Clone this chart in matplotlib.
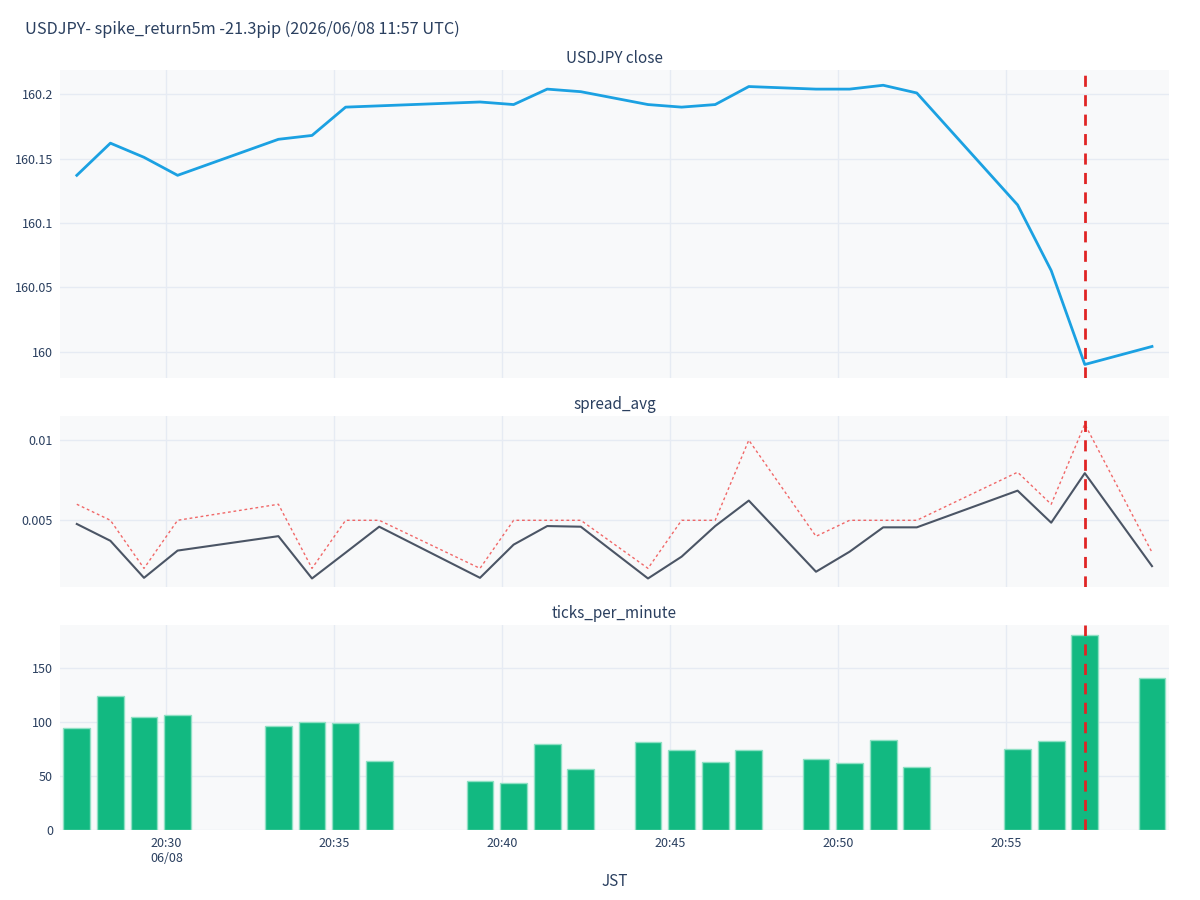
import numpy as np
import pandas as pd
import matplotlib
matplotlib.use('Agg')
import matplotlib.pyplot as plt
import matplotlib.dates as mdates
from matplotlib.ticker import FuncFormatter

plt.rcParams['font.family'] = ['Noto Sans CJK JP', 'DejaVu Sans']

# data (JST, 2026/06/08)
minutes = [27, 28, 29, 30, 33, 34, 35, 36, 39, 40, 41, 42, 44, 45, 46, 47, 49, 50, 51, 52, 55, 56, 57, 59]
close = [160.137, 160.162, 160.151, 160.137, 160.165, 160.168, 160.190, 160.191, 160.194, 160.192,
         160.204, 160.202, 160.192, 160.190, 160.192, 160.206, 160.204, 160.204, 160.207, 160.201,
         160.114, 160.063, 159.990, 160.004]
spread_avg = [0.00477, 0.00372, 0.00141, 0.00311, 0.00401, 0.00137, 0.00298, 0.00460, 0.00141, 0.00348,
              0.00464, 0.00460, 0.00137, 0.00273, 0.00464, 0.00623, 0.00179, 0.00304, 0.00456, 0.00456,
              0.00685, 0.00485, 0.00794, 0.00214]
spread_max = [0.006, 0.005, 0.002, 0.005, 0.006, 0.002, 0.005, 0.005, 0.002, 0.005,
              0.005, 0.005, 0.002, 0.005, 0.005, 0.010, 0.004, 0.005, 0.005, 0.005,
              0.008, 0.006, 0.011, 0.003]
ticks_per_minute = [94, 124, 104, 106, 96, 100, 99, 64, 45, 43, 79, 56, 81, 74, 63, 74, 66, 62, 83, 58,
                    75, 82, 180, 141]
event_time = pd.Timestamp('2026-06-08 20:57:20')
title = 'USDJPY- spike_return5m -21.3pip (2026/06/08 11:57 UTC)'

times = [pd.Timestamp('2026-06-08 20:%02d:20' % m) for m in minutes]

text_color = '#2a3f5f'
grid_color = '#e6ebf3'
bg_color = '#f8f9fa'

fig = plt.figure(figsize=(12, 9), dpi=100)
ax1 = fig.add_axes([0.05, 0.58, 0.924, 0.342])
ax2 = fig.add_axes([0.05, 0.348, 0.924, 0.19])
ax3 = fig.add_axes([0.05, 0.078, 0.924, 0.228])

ax1.plot(times, close, color='#1ba1e2', linewidth=2, zorder=3)
ax2.plot(times, spread_max, color='#ef4444', linewidth=1, linestyle=(0, (2, 2)), alpha=0.8, zorder=3)
ax2.plot(times, spread_avg, color='#4b5565', linewidth=1.5, zorder=3)
ax3.bar(times, ticks_per_minute, width=0.8 / 1440, color='#12b981', edgecolor='#8fe0c4', linewidth=1, zorder=3)

ax1.set_ylim(159.9795, 160.2187)
ax1.set_yticks([160, 160.05, 160.1, 160.15, 160.2])
ax2.set_ylim(0.00085, 0.01152)
ax2.set_yticks([0.005, 0.01])
ax3.set_ylim(0, 190)
ax3.set_yticks([0, 50, 100, 150])

fmt = FuncFormatter(lambda v, p: '%g' % round(v, 6))
xmin = times[0] - pd.Timedelta(seconds=30)
xmax = times[-1] + pd.Timedelta(seconds=30)
xticks = [pd.Timestamp('2026-06-08 20:%02d:00' % m) for m in [30, 35, 40, 45, 50, 55]]
for ax, name in [(ax1, 'USDJPY close'), (ax2, 'spread_avg'), (ax3, 'ticks_per_minute')]:
    ax.set_facecolor(bg_color)
    ax.set_xlim(xmin, xmax)
    ax.set_xticks(xticks)
    ax.grid(True, color=grid_color, linewidth=1, zorder=0)
    ax.set_axisbelow(True)
    for s in ax.spines.values():
        s.set_visible(False)
    ax.tick_params(length=0, labelsize=9, colors=text_color, pad=5)
    ax.yaxis.set_major_formatter(fmt)
    ax.axvline(event_time, color='#e02424', linewidth=2, linestyle=(0, (4, 3)), zorder=4)
    ax.set_title(name, fontsize=11, color=text_color, pad=5)

ax1.set_xticklabels([])
ax2.set_xticklabels([])
labels = [t.strftime('%H:%M') for t in xticks]
labels[0] = labels[0] + '\n06/08'
ax3.set_xticklabels(labels)
ax3.set_xlabel('JST', fontsize=11, color=text_color, labelpad=6)

fig.text(0.021, 0.967, title, fontsize=11.7, color=text_color, ha='left', va='center')

fig.savefig('out.png')
